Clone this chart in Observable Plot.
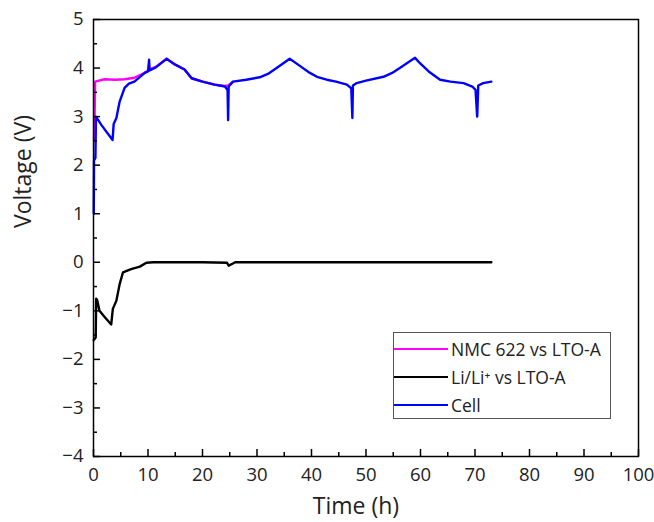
<!DOCTYPE html>
<html>
<head>
<meta charset="utf-8">
<script src="https://cdn.jsdelivr.net/npm/d3@7"></script>
<script src="https://cdn.jsdelivr.net/npm/@observablehq/plot@0.6"></script>
<style>
  html, body { margin: 0; padding: 0; background: #fff; }
  #wrap { position: relative; width: 654px; height: 522px; font-family: "Open Sans", sans-serif; }
  #legend { position: absolute; left: 393px; top: 332px; width: 216px; height: 85px;
    border: 1px solid #555; background: #fff; font-size: 17.5px; color: #222; }
  .row { position: absolute; left: 0; height: 24px; display: flex; align-items: center; }
  .sw { width: 54px; height: 0; border-top: 2.4px solid; margin-right: 3px; }
</style>
</head>
<body>
<div id="wrap"></div>
<script>
// Time (h) and voltage (V)
const cellT = [0.05,0.1,0.35,0.45,1.5,3.5,3.7,4.2,4.8,5.7,6.5,7.5,9.4,10.0,10.2,10.3,11.5,13.4,15,16.7,18,20,22.2,24.1,24.6,24.7,24.8,25.6,28,30.5,32,33.6,36.0,37.8,39.7,41,42.8,44.5,46.5,47.3,47.5,47.6,48.3,50,53.2,54.8,56.2,59,59.9,61.5,63.6,65.5,67.9,69.5,70.1,70.4,70.6,71.5,73.0];
const cellV = [1.0,2.1,2.15,3.0,2.82,2.52,2.85,2.97,3.31,3.59,3.68,3.72,3.90,3.93,4.17,3.95,4.02,4.19,4.07,3.97,3.79,3.72,3.66,3.62,3.55,2.93,3.62,3.72,3.76,3.81,3.88,4.0,4.19,4.05,3.90,3.82,3.76,3.72,3.66,3.58,2.97,3.64,3.69,3.74,3.82,3.90,4.0,4.21,4.10,3.93,3.76,3.72,3.69,3.62,3.55,3.0,3.64,3.69,3.72];

const nmcT = [0.1,0.2,0.3,1,2,4,5.7,7.5,9.4,10.2,11.5,13.4,15,16.7,18,20,22.2,24.1,24.7,25.6];
const nmcV = [2.5,3.0,3.72,3.74,3.77,3.76,3.77,3.80,3.90,3.97,4.03,4.19,4.07,3.97,3.79,3.72,3.66,3.63,3.64,3.72];

const liT = [0.05,0.4,0.5,0.68,1.1,2,3.25,3.55,4.2,4.8,5.4,6.9,8.5,9.7,11,20,24.5,24.8,25.5,26,47.5,70.5,73];
const liV = [-1.6,-1.55,-0.75,-0.78,-1.0,-1.12,-1.28,-0.96,-0.79,-0.45,-0.21,-0.14,-0.09,-0.01,0.0,0.0,-0.01,-0.07,-0.03,0.0,0.0,0.0,0.0];

const seriesNames = ["NMC 622 vs LTO-A", "Li/Li\u207A vs LTO-A", "Cell"];
const seriesColors = ["#ff00ff", "#000000", "#0000ff"];

const xMajor = [0,10,20,30,40,50,60,70,80,90,100];
const xMinor = [5,15,25,35,45,55,65,75,85,95];
const yMajor = [-4,-3,-2,-1,0,1,2,3,4,5];
const yMinor = [-3.5,-2.5,-1.5,-0.5,0.5,1.5,2.5,3.5,4.5];

const toRows = (T, V) => T.map((t, i) => ({t, v: V[i]}));
const nmc = toRows(nmcT, nmcV), li = toRows(liT, liV), cell = toRows(cellT, cellV);

const font = "Open Sans, sans-serif";
const chart = Plot.plot({
  width: 654, height: 522,
  marginLeft: 93, marginRight: 16, marginTop: 19, marginBottom: 66,
  style: {fontFamily: font, background: "#fff", color: "#222"},
  x: {domain: [0, 100]},
  y: {domain: [-4, 5]},
  marks: [
    Plot.line(nmc, {x: "t", y: "v", stroke: seriesColors[0], strokeWidth: 2.4}),
    Plot.line(li, {x: "t", y: "v", stroke: seriesColors[1], strokeWidth: 2.4}),
    Plot.line(cell, {x: "t", y: "v", stroke: seriesColors[2], strokeWidth: 2.4}),
    Plot.axisX({ticks: xMajor, tickSize: -7, tickFormat: () => "", label: null, stroke: "#000", strokeWidth: 1.5}),
    Plot.axisX({ticks: xMinor, tickSize: -4, tickFormat: () => "", label: null, stroke: "#000", strokeWidth: 1.5}),
    Plot.axisX({ticks: xMajor, tickSize: 0, tickPadding: 11, label: null, fontSize: 18.5, fill: "#222"}),
    Plot.axisY({ticks: yMajor, tickSize: -7, tickFormat: () => "", label: null, stroke: "#000", strokeWidth: 1.5}),
    Plot.axisY({ticks: yMinor, tickSize: -4, tickFormat: () => "", label: null, stroke: "#000", strokeWidth: 1.5}),
    Plot.axisY({ticks: yMajor, tickSize: 0, tickPadding: 10, label: null, fontSize: 18.5, fill: "#222"}),
    Plot.frame({stroke: "#000", strokeWidth: 1.5}),
    Plot.text(["Time (h)"], {frameAnchor: "bottom", dx: -10, dy: 57, lineAnchor: "bottom", fontSize: 23, fill: "#222"}),
    Plot.text(["Voltage (V)"], {frameAnchor: "left", dx: -70, dy: -10, rotate: -90, fontSize: 23, fill: "#222"})
  ]
});
const wrap = document.getElementById("wrap");
wrap.appendChild(chart);

const legend = document.createElement("div");
legend.id = "legend";
const rowTops = [4, 32, 60];
seriesNames.forEach((name, i) => {
  const row = document.createElement("div");
  row.className = "row";
  row.style.top = rowTops[i] + "px";
  const sw = document.createElement("span");
  sw.className = "sw";
  sw.style.borderTopColor = seriesColors[i];
  const label = document.createElement("span");
  label.textContent = name;
  row.appendChild(sw); row.appendChild(label);
  legend.appendChild(row);
});
wrap.appendChild(legend);
</script>
</body>
</html>
